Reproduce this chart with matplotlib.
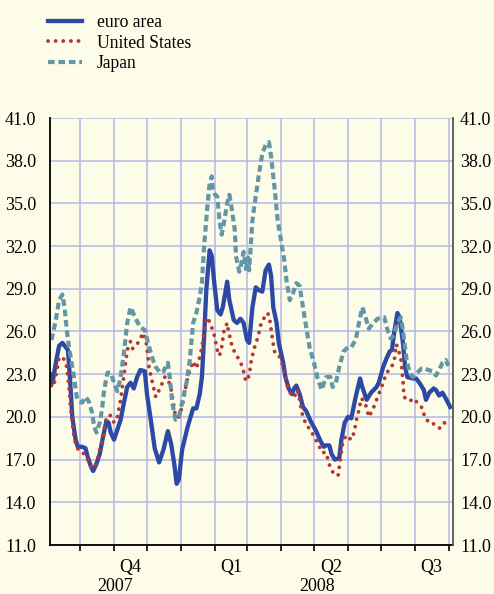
import matplotlib
matplotlib.use('Agg')
import matplotlib.pyplot as plt
import matplotlib.transforms as mtrans
import numpy as np
import pandas as pd

# x = days counted from 1 Sep 2007
eu_day = [4, 5, 8, 11, 14, 16, 19, 21, 23, 26, 28, 32, 35, 37, 40, 42, 45, 48, 51, 54,
          56, 58, 61, 64, 67, 70, 73, 76, 79, 82, 85, 89, 91, 95, 98, 102, 106, 110, 113, 116,
          118, 120, 123, 128, 133, 136, 139, 141, 143, 145, 148, 150, 152, 155, 158, 160, 164, 166, 170, 173,
          176, 179, 182, 184, 187, 190, 193, 196, 199, 202, 204, 206, 209, 211, 215, 217, 220, 223, 225, 227,
          230, 233, 236, 240, 245, 249, 252, 254, 257, 259, 262, 266, 268, 271, 274, 277, 281, 285, 287, 291,
          295, 300, 302, 306, 309, 312, 314, 316, 319, 321, 324, 326, 328, 333, 336, 339, 343, 345, 348, 352,
          354, 357, 360, 363, 367]
eu_val = [23.0, 22.4, 23.8, 25.0, 25.2, 25.0, 24.7, 22.6, 20.0, 18.4, 17.9, 17.9, 17.8, 17.2, 16.5, 16.2, 16.7, 17.4, 18.6, 19.7,
          19.6, 18.9, 18.4, 19.1, 19.8, 21.0, 22.1, 22.4, 22.0, 22.8, 23.3, 23.2, 21.6, 19.5, 17.8, 16.8, 17.7, 19.0, 18.1, 16.6,
          15.3, 15.6, 17.7, 19.3, 20.6, 20.6, 21.6, 22.8, 25.6, 28.9, 31.7, 31.3, 29.6, 27.5, 27.2, 27.7, 29.5, 28.2, 26.8, 26.6,
          26.9, 26.6, 25.4, 25.2, 27.7, 29.1, 28.9, 28.8, 30.3, 30.7, 29.9, 27.7, 26.6, 25.2, 23.8, 22.8, 22.0, 21.6, 22.0, 22.2,
          21.6, 20.7, 20.4, 19.7, 19.0, 18.3, 17.9, 18.0, 18.0, 17.4, 17.0, 17.1, 18.4, 19.6, 20.0, 19.9, 21.4, 22.7, 22.1, 21.2,
          21.7, 22.1, 22.4, 23.5, 24.1, 24.6, 24.7, 25.9, 27.3, 27.0, 25.2, 23.5, 22.8, 22.7, 22.7, 22.4, 21.9, 21.2, 21.7, 22.0,
          21.9, 21.5, 21.7, 21.3, 20.7]

us_day = [4, 6, 9, 11, 15, 18, 20, 21, 23, 24, 26, 29, 34, 37, 40, 43, 46, 48, 51, 53,
          55, 58, 61, 64, 67, 70, 73, 76, 78, 82, 85, 87, 90, 92, 93, 96, 99, 104, 107, 110,
          113, 115, 117, 120, 123, 127, 130, 133, 136, 139, 141, 143, 145, 146, 149, 152, 155, 157, 159, 161,
          164, 165, 168, 171, 175, 178, 181, 184, 186, 189, 192, 195, 198, 201, 203, 205, 207, 210, 213, 216,
          219, 222, 225, 228, 230, 232, 236, 240, 243, 247, 250, 254, 258, 262, 265, 267, 269, 272, 277, 280,
          281, 284, 286, 289, 291, 293, 297, 300, 303, 306, 309, 313, 316, 318, 322, 324, 325, 330, 334, 338,
          342, 344, 347, 350, 354, 358, 362, 366]
us_val = [22.2, 22.1, 23.3, 24.2, 24.1, 23.5, 22.1, 21.0, 19.6, 18.9, 18.1, 17.6, 17.4, 17.0, 16.5, 16.4, 17.0, 17.7, 18.6, 19.6,
          20.1, 20.1, 19.6, 20.0, 21.2, 22.9, 24.7, 25.3, 24.8, 25.1, 25.5, 25.9, 25.4, 24.2, 23.4, 22.4, 21.4, 22.2, 22.8, 22.7,
          21.9, 21.0, 20.0, 20.0, 20.7, 22.4, 23.3, 23.9, 23.4, 24.2, 24.9, 26.0, 26.8, 27.0, 26.5, 25.8, 24.7, 24.3, 24.9, 26.0,
          26.6, 26.1, 25.1, 24.5, 24.0, 23.5, 22.5, 22.9, 24.0, 24.9, 25.6, 26.6, 27.0, 27.3, 26.7, 25.6, 24.6, 24.5, 24.0, 23.3,
          22.1, 21.6, 21.4, 21.9, 21.2, 20.3, 19.4, 19.1, 18.6, 18.1, 17.5, 17.5, 16.4, 15.9, 15.9, 17.0, 18.1, 18.7, 18.4, 19.0,
          19.6, 20.5, 21.3, 21.1, 20.6, 20.0, 20.6, 21.2, 21.8, 22.4, 23.1, 23.4, 23.9, 25.1, 24.2, 22.6, 21.4, 21.1, 21.3, 20.9,
          20.6, 19.9, 19.7, 19.7, 19.3, 19.2, 19.6, 19.9]

jp_day = [4, 8, 11, 14, 16, 18, 20, 23, 25, 27, 29, 32, 35, 38, 41, 43, 45, 48, 50, 52,
          55, 58, 61, 64, 67, 70, 73, 76, 79, 82, 85, 89, 92, 93, 96, 99, 103, 106, 110, 112,
          114, 117, 120, 123, 127, 130, 133, 136, 139, 141, 143, 146, 148, 150, 151, 153, 155, 157, 159, 161,
          164, 166, 168, 171, 172, 175, 177, 179, 181, 183, 184, 187, 190, 193, 196, 199, 202, 204, 207, 210,
          213, 216, 218, 221, 224, 227, 230, 233, 236, 239, 243, 246, 250, 254, 258, 260, 263, 266, 270, 274,
          277, 281, 284, 287, 290, 293, 297, 301, 307, 310, 313, 316, 319, 322, 324, 327, 330, 333, 337, 341,
          344, 347, 351, 354, 357, 360, 363, 366]
jp_val = [25.4, 26.8, 28.2, 28.6, 27.7, 26.1, 24.9, 23.5, 22.6, 21.4, 21.1, 21.0, 21.4, 21.1, 20.3, 19.3, 18.9, 19.6, 20.5, 21.9,
          23.1, 23.1, 22.4, 21.8, 22.8, 24.5, 26.6, 27.7, 27.2, 26.7, 26.3, 26.1, 25.2, 24.9, 24.1, 23.5, 23.1, 23.2, 23.8, 22.6,
          21.0, 19.8, 20.0, 21.0, 22.4, 24.0, 26.6, 27.3, 28.4, 29.4, 32.0, 34.8, 36.4, 36.9, 35.9, 35.6, 35.5, 33.8, 32.8, 33.6,
          35.0, 35.6, 34.7, 33.1, 31.3, 30.2, 30.8, 31.6, 30.4, 31.2, 30.3, 33.8, 35.5, 37.1, 38.5, 39.1, 39.3, 38.3, 36.2, 33.8,
          32.4, 31.0, 29.6, 28.2, 28.7, 29.4, 29.2, 27.7, 26.3, 24.9, 23.8, 22.8, 21.9, 22.8, 22.8, 22.1, 22.4, 23.5, 24.6, 24.9,
          24.9, 25.4, 26.6, 27.7, 27.0, 26.2, 26.6, 26.9, 27.0, 26.1, 25.5, 25.8, 26.6, 27.0, 26.1, 24.2, 23.1, 22.8, 23.1, 23.4,
          23.4, 23.3, 23.2, 22.9, 23.3, 23.8, 24.0, 23.5]

labels = ['euro area', 'United States', 'Japan']
yticks = np.arange(11, 42, 3)

bg = '#fdfce8'
grid_c = '#b4b8e6'
blue = '#2c49a6'
red = '#b8372c'
teal = '#6397a8'

start = pd.Timestamp('2007-09-01')
month_day = (pd.date_range('2007-09-01', '2008-09-01', freq='MS') - start).days.values
q_start = (pd.date_range('2007-10-01', '2008-10-01', freq='QS') - start).days.values
q_names = ['Q4', 'Q1', 'Q2', 'Q3']
x0, x1 = 2.7, 369.6
jan1 = (pd.Timestamp('2008-01-01') - start).days

plt.rcParams['font.family'] = ['Liberation Serif', 'DejaVu Serif']

fig = plt.figure(figsize=(4.94, 5.94), dpi=100, facecolor=bg)
ax = fig.add_axes([50/494, 49/594, 403/494, 427/594])
ax.set_facecolor(bg)

l1, = ax.plot(eu_day, eu_val, color=blue, lw=3.1, solid_joinstyle='round')
l2, = ax.plot(us_day, us_val, color=red, lw=2.8, linestyle=(0, (0.01, 1.95)),
              dash_capstyle='round')
l3, = ax.plot(jp_day, jp_val, color=teal, lw=3.0, linestyle=(0, (1.6, 0.9)),
              dash_capstyle='butt')

ax.set_xlim(x0, x1)
ax.set_ylim(11, 41)
ax.set_yticks(yticks)
ax.set_yticklabels(['%.1f' % v for v in yticks])
ax.tick_params(axis='y', length=0, labelsize=13, pad=10)

# right-hand copy of the value axis
ax2 = ax.twinx()
ax2.set_ylim(11, 41)
ax2.set_yticks(yticks)
ax2.set_yticklabels(['%.1f' % v for v in yticks])
ax2.tick_params(axis='y', length=0, labelsize=13, pad=5)
for s in ['top', 'left', 'bottom']:
    ax2.spines[s].set_visible(False)
ax2.spines['right'].set_color('#555555')
ax2.spines['right'].set_linewidth(1.3)

for m in month_day:
    if x0 < m < x1:
        ax.axvline(m, color=grid_c, lw=1.1, zorder=0)
for v in yticks:
    ax.axhline(v, color=grid_c, lw=1.1, zorder=0)

ax.set_xticks([m for m in month_day if x0 <= m <= x1])
ax.set_xticklabels([])
ax.tick_params(axis='x', length=4, width=1.2, direction='out')
ax.set_xticks(q_start[q_start < x1], minor=True)
ax.tick_params(axis='x', which='minor', length=9, width=1.2, direction='out')

ax.spines['top'].set_visible(False)
ax.spines['right'].set_visible(False)
ax.spines['left'].set_color('black')
ax.spines['left'].set_linewidth(1.3)
ax.spines['bottom'].set_linewidth(1.3)

tr = mtrans.blended_transform_factory(ax.transData, ax.transAxes)
for i, name in enumerate(q_names):
    c = (q_start[i] + q_start[i + 1]) / 2
    ax.text(c, -0.052, name, transform=tr, ha='center', va='center', fontsize=13)
ax.text((x0 + jan1) / 2, -0.098, '2007', transform=tr, ha='center', va='center', fontsize=13)
ax.text((jan1 + x1) / 2, -0.098, '2008', transform=tr, ha='center', va='center', fontsize=13)

fig.legend([l1, l2, l3], labels, loc='upper left', bbox_to_anchor=(48/494, 1 - 14/594),
           frameon=False, fontsize=12.7, handlelength=1.9, handletextpad=0.85,
           labelspacing=0.2, borderpad=0, borderaxespad=0)

fig.savefig('out.png', dpi=100, facecolor=bg)
